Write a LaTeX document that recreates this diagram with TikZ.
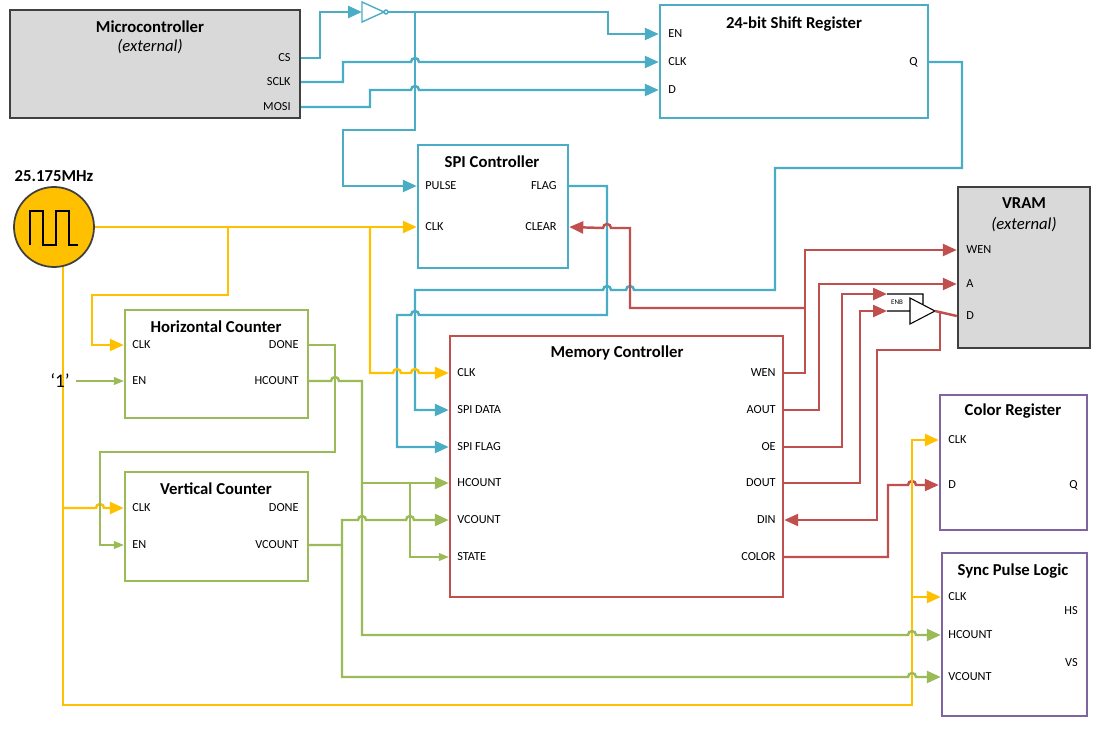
\documentclass[tikz,border=0pt]{standalone}
\usepackage{fontspec}
\setmainfont{Carlito}
\usetikzlibrary{arrows.meta,positioning}
\definecolor{cB}{HTML}{4BACC6}
\definecolor{cR}{HTML}{C0504D}
\definecolor{cG}{HTML}{9BBB59}
\definecolor{cY}{HTML}{FFC000}
\definecolor{cP}{HTML}{8064A2}
\newcommand\hopR[2]{-- ({#1-4},#2) arc[start angle=180,end angle=360,radius=4]}
\newcommand\hopL[2]{-- ({#1+4},#2) arc[start angle=0,end angle=-180,radius=4]}

\begin{document}
\begin{tikzpicture}[
      x=0.2mm,y=-0.2mm,
      myblock/.style={
         rectangle,
         draw=#1,
         line width=1.4pt,
         inner sep=0pt},
      sz/.style 2 args={
         minimum width=#1*0.2mm,
         minimum height=#2*0.2mm},
      mytitle/.style={font=\fontsize{9.5}{11}\selectfont\bfseries},
      mysub/.style={font=\fontsize{9.5}{11}\selectfont\itshape},
      myport/.style={font=\fontsize{7}{8}\selectfont,inner sep=0pt},
      bus/.style={line width=1.4pt,-{Triangle[length=2.8mm,width=2.4mm]}},
      wire/.style={line width=0.6pt,-{Triangle[length=2mm,width=1.6mm]}},
      ]
      \useasboundingbox (0,0) rectangle (1105,731);
      % blocks
      \node[myblock=black!75,fill=black!15,sz={290}{108}] (mc) at (155,64) {};
      \node[myblock=cB,sz={268}{113}] (sr) at (794,61.5) {};
      \node[myblock=cB,sz={150}{123}] (spi) at (493,206.5) {};
      \node[myblock=black!75,fill=black!15,sz={132}{161}] (vram) at (1024,267.5) {};
      \node[myblock=cR,sz={333}{261}] (mem) at (616.5,466.5) {};
      \node[myblock=cG,sz={183}{108}] (hc) at (216.5,364) {};
      \node[myblock=cG,sz={183}{109}] (vc) at (216.5,526.5) {};
      \node[myblock=cP,sz={147}{135}] (cr) at (1013.5,462.5) {};
      \node[myblock=cP,sz={145}{163}] (sp) at (1014.5,634.5) {};
      % titles
      \node[mytitle] (mct) at (150,27) {Microcontroller};
      \node[mysub] (mcx) at (150,47) {(external)};
      \node[mytitle] (srt) at (794,24) {24-bit Shift Register};
      \node[mytitle] (spit) at (492,162) {SPI Controller};
      \node[mytitle] (vramt) at (1024,203) {VRAM};
      \node[mysub] (vramx) at (1024,225) {(external)};
      \node[mytitle] (memt) at (617,353) {Memory Controller};
      \node[mytitle] (hct) at (216,327) {Horizontal Counter};
      \node[mytitle] (vct) at (216,489) {Vertical Counter};
      \node[mytitle] (crt) at (1013,411) {Color Register};
      \node[mytitle] (spt) at (1013,571) {Sync Pulse Logic};
      % ports
      \foreach \n/\t/\x/\y/\a in {
        mcs/CS/291/58/east, msclk/SCLK/291/82/east, mmosi/MOSI/291/107/east,
        sen/EN/668/34/west, ssclk/CLK/668/62/west, sd/D/668/90/west, sq/Q/918/62/east,
        spulse/PULSE/425/186/west, sclk/CLK/425/227/west,
        sflag/FLAG/557/186/east, sclear/CLEAR/557/227/east,
        vwen/WEN/966/250/west, va/A/966/284/west, vd/D/966/316/west,
        mclk/CLK/457/373/west, mspid/SPI DATA/457/410/west, mspif/SPI FLAG/457/447/west,
        mhc/HCOUNT/457/483/west, mvc/VCOUNT/457/520/west, mstate/STATE/457/557/west,
        mwen/WEN/776/373/east, maout/AOUT/776/410/east, moe/OE/776/447/east,
        mdout/DOUT/776/483/east, mdin/DIN/776/520/east, mcolor/COLOR/776/557/east,
        hclk/CLK/132/345/west, hen/EN/132/381/west, hdone/DONE/299/345/east, hhc/HCOUNT/299/381/east,
        vclk/CLK/132/508/west, ven/EN/132/545/west, vdone/DONE/299/508/east, vvc/VCOUNT/299/545/east,
        cclk/CLK/948/440/west, cd/D/948/485/west, cq/Q/1078/485/east,
        pclk/CLK/948/597/west, phs/HS/1078/611/east, phc/HCOUNT/948/635/west,
        pvs/VS/1078/663/east, pvc/VCOUNT/948/677/west}
       \node[myport,anchor=\a] (\n) at (\x,\y) {\t};
      % buffers
      \coordinate (bufin) at (362,12);
      \coordinate (bufout) at (388,12);
      \draw[line width=0.8pt,cB] (362,2) -- (384,12) -- (362,22) -- cycle (386,12) circle (2);
      \coordinate (enb) at (887,294);
      \coordinate (tin) at (887,311);
      \coordinate (tout) at (935,311);
      \draw[line width=0.6pt] (enb) -- (923,294) -- (923,305) (tin) -- (910,311)
        (910,298) -- (tout) -- (910,324) -- cycle;
      \node[font=\fontsize{4}{5}\selectfont,inner sep=0pt] (enbt) at (897,302) {ENB};
      % blue
      \begin{scope}[cB]
      \draw[bus] (mc.east |- mcs) -- (320,58) |- (bufin);
      \draw[bus] (bufout) -- (608,12) |- (sr.west |- sen);
      \draw[bus] (mc.east |- msclk) -- (343,82) -- (343,62) \hopR{415}{62} -- (sr.west |- ssclk);
      \draw[bus] (mc.east |- mmosi) -- (370,107) -- (370,90) \hopR{415}{90} -- (sr.west |- sd);
      \draw[bus] (415,12) -- (415,130) -- (343,130) |- (spi.west |- spulse);
      \draw[bus] (sr.east |- sq) -- (962,62) -- (962,168) -- (775,168) -- (775,290)
        \hopL{630}{290} \hopL{607}{290} -- (415,290) |- (mem.west |- mspid);
      \draw[bus] (spi.east |- sflag) -- (607,186) -- (607,315) \hopL{415}{315} -- (397,315)
        |- (mem.west |- mspif);
      \end{scope}
      % red
      \begin{scope}[cR]
      \draw[bus] (mem.east |- mwen) -- (805,373) |- (vram.west |- vwen);
      \draw[bus] (805,308) -- (630,308) -- (630,228) \hopL{607}{228} -- (spi.east |- sclear);
      \draw[bus] (mem.east |- maout) -- ++(35,0) |- (vram.west |- va);
      \draw[bus] (mem.east |- moe) -- ++(58,0) |- (enb);
      \draw[bus] (mem.east |- mdout) -- ++(76,0) |- (tin);
      \draw[line width=1.4pt] (tout) -- (vram.west |- vd);
      \draw[bus] (940,311) -- (940,350) -- (877,350) |- (mem.east |- mdin);
      \draw[bus] (mem.east |- mcolor) -- (888,557) -- (888,485) \hopR{912}{485} -- (cr.west |- cd);
      \end{scope}
      % yellow
      \begin{scope}[cY]
      \draw[bus] (94,227) -- (spi.west |- sclk);
      \draw[bus] (228,227) -- (228,295) -- (92,295) |- (hc.west |- hclk);
      \draw[bus] (370,227) -- (370,373) \hopR{397}{373} \hopR{415}{373} -- (mem.west |- mclk);
      \draw[bus] (63,266) -- (63,705) -- (912,705) |- (cr.west |- cclk);
      \draw[bus] (912,597) -- (sp.west |- pclk);
      \draw[bus] (63,508) \hopR{100}{508} -- (vc.west |- vclk);
      \end{scope}
      % green
      \begin{scope}[cG]
      \draw[wire] (hc.east |- hdone) -- (335,345) -- (335,452) -- (100,452) |- (vc.west |- ven);
      \node[font=\fontsize{11}{12}\selectfont,text=black] (one) at (60,381) {‘1’};
      \draw[wire] (one.east) -- (hc.west |- hen);
      \draw[bus] (hc.east |- hhc) \hopR{335}{381} -- (362,381) -- (362,635) \hopR{912}{635}
        -- (sp.west |- phc);
      \draw[bus] (362,483) -- (mem.west |- mhc);
      \draw[wire] (410,483) |- (mem.west |- mstate);
      \draw[bus] (vc.east |- vvc) -- (342,545) -- (342,520) \hopR{362}{520} \hopR{410}{520}
        -- (mem.west |- mvc);
      \draw[bus] (342,545) -- (342,677) \hopR{912}{677} -- (sp.west |- pvc);
      \end{scope}
      % clock
      \node[circle,draw=black!75,fill=cY,line width=1pt,minimum size=16mm,inner sep=0pt] (clk) at (54,227) {};
      \draw[line width=1pt] (30,245) -- (30,211) -- (43,211) -- (43,245) -- (56,245)
        -- (56,211) -- (69,211) -- (69,245) -- (78,245);
      \node[mytitle] (clkt) at (54,176) {25.175MHz};
\end{tikzpicture}
\end{document}
